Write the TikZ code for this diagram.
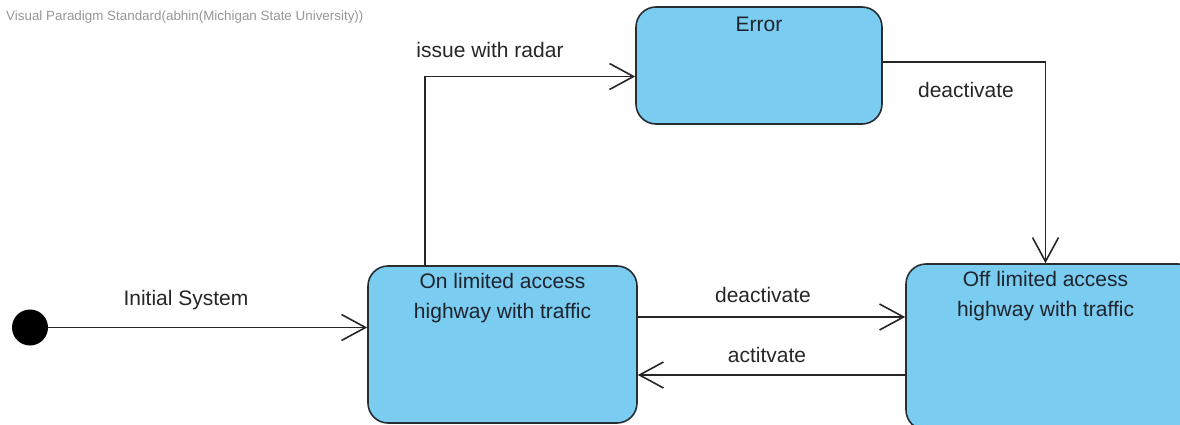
\documentclass[tikz,border=0pt]{standalone}
\usepackage{fontspec}
\setmainfont{Liberation Sans}
\usepackage{tikz}
\usetikzlibrary{arrows.meta,shapes,positioning}
\usepackage{xcolor}
\definecolor{vpblue}{RGB}{122,204,240}
\definecolor{vpline}{RGB}{40,45,50}
\definecolor{vptext}{RGB}{30,35,45}
\definecolor{vpgray}{RGB}{150,150,150}
\tikzstyle{statebox} = [rectangle, rounded corners=20pt, draw=vpline, fill=vpblue, line width=1.6pt, inner sep=0pt]
\tikzstyle{statetext} = [font=\fontsize{21}{30}\selectfont, align=center, text=vptext, inner sep=0pt]
\tikzstyle{trans} = [line width=1.6pt, color=black!85, -{Straight Barb[length=24pt,width=26pt,line width=1.6pt]}]
\tikzstyle{translabel} = [font=\fontsize{21}{24}\selectfont, text=black!85, inner sep=0pt]

\begin{document}
\begin{tikzpicture}[x=1pt, y=-1pt]
\useasboundingbox (0,0) rectangle (1180,425);
% header
\node[anchor=west, font=\fontsize{13.4}{15}\selectfont, text=vpgray, inner sep=0pt] (header) at (6,17) {Visual Paradigm Standard(abhin(Michigan State University))};

% states
\node[statebox, minimum width=269pt, minimum height=157pt] (on) at (502.5,344.5) {};
\node[statebox, minimum width=246pt, minimum height=117pt] (error) at (759,65.5) {};
\node[statebox, minimum width=292pt, minimum height=166pt] (off) at (1052,347) {};
\node[statetext, below=8pt of on.north] (onTxt) {On limited access\\highway with traffic};
\node[statetext, below=11pt of error.north] (errorTxt) {Error};
\node[statetext, below=8pt of off.north, xshift=-6.5pt] (offTxt) {Off limited access\\highway with traffic};

% initial pseudo state
\node[circle, fill=black, minimum size=36pt, inner sep=0pt] (init) at (30,327.5) {};

% transitions
\draw[trans] (init) -- (init -| on.west);
\node[translabel] (initLbl) at (186,300) {Initial System};

\coordinate (deacA) at ([yshift=27.5pt]on.east);
\draw[trans] (deacA) -- (deacA -| off.west);
\node[translabel] (deacLbl) at (763,295) {deactivate};

\coordinate (actA) at ([yshift=-28pt]off.west);
\draw[trans] (actA) -- (actA -| on.east);
\node[translabel] (actLbl) at (767,355) {actitvate};

\coordinate (radarA) at ([xshift=-77.5pt]on.north);
\coordinate (radarB) at ([yshift=-11pt]error.west);
\draw[trans] (radarA) |- (radarB);
\node[translabel] (radarLbl) at (490,50) {issue with radar};

\coordinate (errA) at ([yshift=3.5pt]error.east);
\coordinate (offIn) at ([xshift=-6.5pt]off.north);
\draw[trans] (errA) -| (offIn);
\node[translabel] (errLbl) at (966,90) {deactivate};
\end{tikzpicture}
\end{document}
